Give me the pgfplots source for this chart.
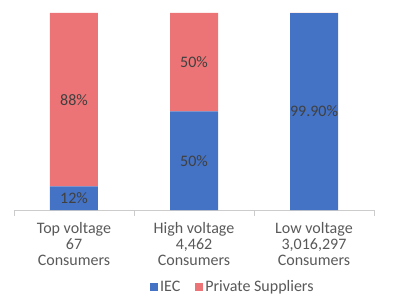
\documentclass[border=0pt]{standalone}
\usepackage{pgfplots}
\pgfplotsset{compat=1.18}
\usepackage{fontspec}
\setmainfont{Carlito}
\definecolor{iec}{RGB}{68,114,196}
\definecolor{priv}{RGB}{236,116,118}
\definecolor{lab}{RGB}{89,89,89}
\definecolor{dlab}{RGB}{64,64,64}
\begin{document}
\begin{tikzpicture}
\useasboundingbox (-14bp,-90bp) rectangle (387bp,210bp);
\begin{axis}[
  scale only axis,
  width=360bp, height=197bp,
  xmin=-0.5, xmax=2.5, ymin=0, ymax=100,
  ybar stacked, bar width=48bp,
  axis y line=none,
  axis x line*=bottom,
  x axis line style={draw=black!20, line width=0.8pt, -},
  xtick={0,1,2},
  xticklabels={{Top voltage\\67\\Consumers},{High voltage\\4,462\\Consumers},{Low voltage\\3,016,297\\Consumers}},
  xticklabel style={align=center, text=lab, font=\fontsize{16bp}{16bp}\selectfont, yshift=-9bp},
  major tick length=0pt,
  minor xtick={-0.5,0.5,1.5,2.5},
  minor tick length=6bp,
  xtick align=outside,
  every minor tick/.style={draw=black!20, line width=0.8pt},
  legend style={draw=none, at={(0.608,-0.391)}, anchor=center, legend columns=2,
    font=\fontsize{16bp}{16bp}\selectfont, text=lab,
    /tikz/every even column/.append style={column sep=13bp}},
  legend image code/.code={\fill[#1] (0bp,-4bp) rectangle (8bp,4bp);},
  legend cell align=left,
]
\addplot[fill=iec, draw=none] coordinates {(0,12) (1,50) (2,99.9)};
\addplot[fill=priv, draw=none] coordinates {(0,88) (1,50) (2,0.1)};
\legend{IEC, Private Suppliers}
\coordinate (l1) at (axis cs:0,6);
\coordinate (l2) at (axis cs:0,56);
\coordinate (l3) at (axis cs:1,25);
\coordinate (l4) at (axis cs:1,75);
\coordinate (l5) at (axis cs:2,49.95);
\end{axis}
\begin{scope}[every node/.style={text=dlab, font=\fontsize{16bp}{16bp}\selectfont}]
\node at (l1) {12\%};
\node at (l2) {88\%};
\node at (l3) {50\%};
\node at (l4) {50\%};
\node at (l5) {99.90\%};
\end{scope}
\end{tikzpicture}
\end{document}
